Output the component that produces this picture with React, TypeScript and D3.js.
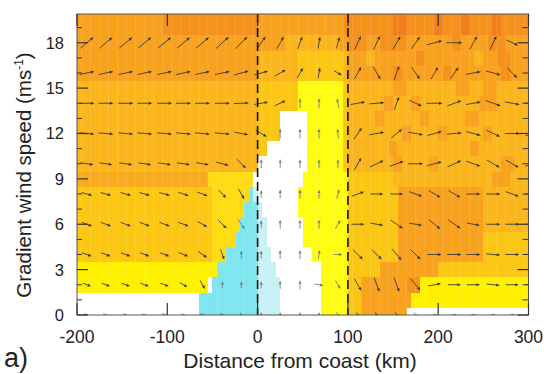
import React from 'react';
import * as d3 from 'd3';

// ---------- data ----------
const xTicks = [-200, -100, 0, 100, 200, 300];
const yTicks = [0, 3, 6, 9, 12, 15, 18];
const yMinorTicks = [1, 2, 4, 5, 7, 8, 10, 11, 13, 14, 16, 17, 19];
const coastLines = [0, 100];

// colour levels of the shaded field
const levelColor: Record<string, string> = {
  W: '#ffffff',
  C: '#7fe5ee',
  L: '#c6f2f6',
  Y: '#fffc12',
  E: '#fff000',
  y: '#fedb12',
  g: '#fcc614',
  o: '#fbb61d',
  p: '#f9aa1f',
  O: '#f8a21f',
  D: '#f5911d',
  R: '#f27f1b',
};

// shaded field: one list per gradient wind speed row (0..19 m/s), runs of [start km, level]
const row0: [number, string][] = [[-200, 'W'], [-65, 'C'], [0, 'L'], [25, 'W'], [70, 'Y'], [100, 'g'], [115, 'O'], [165, 'W']];
const row1: [number, string][] = [[-200, 'W'], [-65, 'C'], [0, 'L'], [25, 'W'], [70, 'Y'], [100, 'g'], [115, 'O'], [170, 'E']];
const row2: [number, string][] = [[-200, 'E'], [-55, 'W'], [-50, 'C'], [0, 'L'], [25, 'W'], [70, 'Y'], [100, 'g'], [115, 'O'], [165, 'D'], [180, 'E']];
const row3: [number, string][] = [[-200, 'E'], [-45, 'C'], [0, 'L'], [20, 'W'], [70, 'Y'], [100, 'g'], [135, 'O'], [200, 'g']];
const row4: [number, string][] = [[-200, 'g'], [-50, 'y'], [-35, 'C'], [0, 'L'], [15, 'W'], [60, 'Y'], [100, 'g'], [155, 'O'], [250, 'g']];
const row5: [number, string][] = [[-200, 'g'], [-50, 'y'], [-25, 'C'], [0, 'L'], [10, 'W'], [50, 'Y'], [100, 'g'], [155, 'O'], [250, 'g']];
const row6: [number, string][] = [[-200, 'g'], [-50, 'y'], [-20, 'C'], [0, 'L'], [10, 'W'], [50, 'Y'], [100, 'g'], [155, 'O'], [250, 'o']];
const row7: [number, string][] = [[-200, 'g'], [-50, 'y'], [-15, 'C'], [0, 'L'], [5, 'W'], [45, 'Y'], [100, 'g'], [155, 'O'], [250, 'o']];
const row8: [number, string][] = [[-200, 'g'], [-50, 'y'], [-10, 'C'], [-5, 'L'], [0, 'W'], [45, 'Y'], [100, 'g'], [155, 'O'], [250, 'o']];
const row9: [number, string][] = [[-200, 'p'], [-55, 'y'], [-5, 'W'], [50, 'Y'], [100, 'g'], [150, 'o'], [260, 'O'], [280, 'o']];
const row10: [number, string][] = [[-200, 'o'], [0, 'W'], [55, 'Y'], [95, 'g'], [100, 'o'], [150, 'O'], [160, 'o'], [190, 'O'], [200, 'o'], [270, 'O'], [285, 'o']];
const row11: [number, string][] = [[-200, 'o'], [0, 'g'], [10, 'W'], [55, 'Y'], [95, 'g'], [100, 'o'], [145, 'O'], [155, 'o'], [235, 'O'], [245, 'o']];
const row12: [number, string][] = [[-200, 'o'], [0, 'g'], [25, 'W'], [55, 'Y'], [95, 'g'], [100, 'o'], [160, 'O'], [170, 'o'], [200, 'O'], [210, 'o'], [250, 'O'], [260, 'o']];
const row13: [number, string][] = [[-200, 'o'], [0, 'g'], [25, 'W'], [55, 'Y'], [95, 'g'], [100, 'o'], [130, 'O'], [140, 'o'], [180, 'O'], [190, 'o'], [230, 'O'], [245, 'o']];
const row14: [number, string][] = [[-200, 'o'], [0, 'g'], [45, 'Y'], [95, 'g'], [100, 'o'], [140, 'O'], [150, 'o'], [170, 'O'], [180, 'o'], [245, 'O'], [265, 'o']];
const row15: [number, string][] = [[-200, 'o'], [0, 'g'], [45, 'Y'], [95, 'g'], [100, 'o'], [150, 'O'], [165, 'o'], [220, 'O'], [235, 'o'], [250, 'O'], [265, 'o']];
const row16: [number, string][] = [[-200, 'O'], [0, 'o'], [45, 'g'], [95, 'o'], [100, 'O'], [150, 'D'], [160, 'O'], [205, 'D'], [215, 'O'], [270, 'D'], [280, 'O']];
const row17: [number, string][] = [[-200, 'O'], [0, 'o'], [45, 'g'], [95, 'o'], [100, 'O'], [120, 'o'], [130, 'O'], [175, 'D'], [185, 'O'], [240, 'o'], [250, 'O'], [265, 'D'], [280, 'O']];
const row18: [number, string][] = [[-200, 'O'], [30, 'o'], [90, 'O'], [100, 'D'], [120, 'O'], [135, 'D'], [165, 'O'], [215, 'D'], [225, 'O'], [255, 'D'], [275, 'O']];
const row19: [number, string][] = [[-200, 'O'], [-105, 'D'], [0, 'O'], [95, 'D'], [150, 'R'], [165, 'D'], [195, 'R'], [205, 'D'], [225, 'R'], [235, 'D'], [260, 'R'], [270, 'D']];

const fieldRows = [row0, row1, row2, row3, row4, row5, row6, row7, row8, row9, row10, row11, row12, row13, row14, row15, row16, row17, row18, row19];

// wind vectors
const arrowX = [-189, -168, -146, -125, -103, -82, -61, -39, -18, 4, 25, 47, 68, 89, 111, 132, 154, 175, 196, 218, 239, 261, 282, 304];
const arrowY = [0, 2, 4, 6, 8, 10, 12, 14, 16, 18];

const dir0 = [-30, -30, -30, -30, -30, -30, 150, 150, 120, 90, 90, 90, 90, -60, -60, -60, -60, -60, 0, 0, 0, 0, 0, 0];
const mag0 = [3, 3, 3, 3, 3, 3, 3, 3, 3, 3, 3, 3, 3, 3, 3, 3, 3, 3, 3, 3, 3, 3, 3, 3];
const dir2 = [-20, -20, -20, -20, -20, -30, -60, 90, 90, 90, 90, 90, -10, -60, -60, -70, -70, -50, 10, 0, 0, -5, 0, 0];
const mag2 = [4.5, 4.5, 4.5, 4.5, 4.5, 4.5, 5, 3.5, 3.5, 3.5, 4, 4.5, 4.5, 5, 7, 7.5, 7.5, 7.5, 6.5, 6.5, 6.5, 6.5, 6.5, 6.5];
const dir4 = [-20, -20, -20, -20, -20, -22, -35, -70, 90, 90, 90, 90, 80, 0, -45, -45, -50, -45, 0, 0, 0, -5, 0, 0];
const mag4 = [5, 5, 5, 5, 5, 5, 5.5, 5.5, 4, 4, 4.5, 4.5, 4.5, 4.5, 7, 7, 7.5, 7, 7, 7, 7, 7, 7, 7];
const dir6 = [-20, -20, -20, -20, -20, -20, -30, -45, -55, 90, 90, 90, 90, 60, 0, -10, -35, -10, -40, -35, -10, 0, 0, 0];
const mag6 = [5.5, 5.5, 5.5, 5.5, 5.5, 5.5, 5.5, 6, 6, 4, 4.5, 4.5, 4.5, 5, 6.5, 6.5, 7.5, 6.5, 7.5, 7.5, 6.5, 7, 7, 7];
const dir8 = [-15, -15, -15, -15, -15, -18, -20, -45, -60, 90, 90, 90, 90, 75, 20, 0, 0, -20, -30, -30, 0, 0, -20, 0];
const mag8 = [5.5, 5.5, 5.5, 5.5, 5.5, 5.5, 5.5, 5.5, 6, 4, 4.5, 4.5, 4.5, 5, 6.5, 6.5, 6.5, 7, 7, 7, 7, 7, 7, 7];
const dir10 = [-8, -8, -8, -8, -8, -8, -10, -15, -45, 90, 90, 90, 90, 90, 60, 25, 20, 0, 15, 25, -20, -30, -30, 20];
const mag10 = [6.5, 6.5, 6.5, 6.5, 6.5, 6.5, 6.5, 6.5, 6.5, 4.5, 4.5, 4.5, 4.5, 4.5, 7, 7.5, 7.5, 7.5, 7.5, 7.5, 7.5, 7.5, 7.5, 7.5];
const dir12 = [-5, -5, -5, -5, -5, -5, -5, -5, -10, -30, 90, 90, 90, 95, 55, 10, 40, -10, 15, 5, -15, -25, 0, 20];
const mag12 = [7.5, 7.5, 7.5, 7.5, 7.5, 7.5, 7.5, 7.5, 7, 6.5, 5, 5, 5, 5, 7, 7.5, 7, 7.5, 7.5, 7.5, 7.5, 7.5, 7.5, 7.5];
const dir14 = [0, 0, 0, 0, 0, 0, 0, 0, 2, 10, 25, 90, 90, 100, 10, 5, 70, -25, 0, 20, 10, -20, -10, 0];
const mag14 = [7.5, 7.5, 7.5, 7.5, 7.5, 7.5, 7.5, 7.5, 7.5, 7, 6, 5, 5, 5, 7.5, 7.5, 7, 7, 8, 7.5, 7.5, 8, 7.5, 7.5];
const dir16 = [12, 12, 12, 12, 12, 12, 12, 12, 15, 15, 30, 60, 80, -30, 60, -60, 70, -55, 60, 55, 10, -15, -45, 65];
const mag16 = [7.5, 7.5, 7.5, 7.5, 7.5, 7.5, 7.5, 7.5, 7.5, 7, 6.5, 6, 5.5, 4.5, 7, 7.5, 7.5, 7.5, 7, 7, 7.5, 7.5, 7, 7.5];
const dir18 = [40, 40, 40, 40, 40, 40, 40, 42, 45, 55, 60, 70, 80, 75, 65, 65, 60, 55, 15, 0, 60, 65, -25, 60];
const mag18 = [8.5, 8.5, 8.5, 8.5, 8.5, 8.5, 8.5, 8.5, 8.5, 7.5, 7, 6.5, 6, 6, 7.5, 7.5, 7.5, 7.5, 8, 8, 7.5, 7.5, 6.5, 8];

const arrowDirs = [dir0, dir2, dir4, dir6, dir8, dir10, dir12, dir14, dir16, dir18];
const arrowMags = [mag0, mag2, mag4, mag6, mag8, mag10, mag12, mag14, mag16, mag18];

// ---------- chart ----------
const W = 544;
const H = 374;
const FONT = "'Liberation Sans', Arial, Helvetica, sans-serif";

function levelAt(xk: number, r: number): string {
  const runs = fieldRows[Math.max(0, Math.min(fieldRows.length - 1, r))];
  let c = runs[0][1];
  for (const [s, cc] of runs) if (xk >= s) c = cc;
  return c;
}

export default function App() {
  const x = d3.scaleLinear().domain([-200, 300]).range([77, 528.5]);
  const y = d3.scaleLinear().domain([0, 19.9]).range([315, 14]);
  const [x0, x1] = x.range();
  const [yb, yt] = y.range();
  const yMax = y.domain()[1];
  const xMax = x.domain()[1];
  const pxPerUnit = 2; // arrow length scale (px per m/s)

  const cells: JSX.Element[] = [];
  fieldRows.forEach((runs, r) => {
    const lo = Math.max(r - 0.5, 0);
    const hi = r === fieldRows.length - 1 ? yMax : r + 0.5;
    runs.forEach(([start, code], k) => {
      const end = k < runs.length - 1 ? runs[k + 1][0] : xMax;
      cells.push(
        <rect
          key={`c${r}-${k}`}
          x={x(start)}
          y={y(hi)}
          width={x(end) - x(start) + 0.3}
          height={y(lo) - y(hi) + 0.3}
          fill={levelColor[code]}
        />
      );
    });
  });

  // faint grid texture of the shaded field (10 km cells)
  const stripes = d3.range(-195, 300, 10);

  const arrows: JSX.Element[] = [];
  arrowY.forEach((yv, j) => {
    arrowX.forEach((xv, i) => {
      const a = (arrowDirs[j][i] * Math.PI) / 180;
      const len = arrowMags[j][i] * pxPerUnit;
      const ux = Math.cos(a);
      const uy = -Math.sin(a);
      const cx = x(xv);
      const cy = y(yv);
      const tx = cx + (ux * len) / 2;
      const ty = cy + (uy * len) / 2;
      const sx = cx - (ux * len) / 2;
      const sy = cy - (uy * len) / 2;
      const hl = 3.6;
      const hw = 1.5;
      const bx = tx - ux * hl;
      const by = ty - uy * hl;
      const px = -uy;
      const py = ux;
      const code = levelAt(xv, yv);
      const col = 'WCLY'.includes(code) ? '#777' : '#333';
      arrows.push(
        <g key={`a${j}-${i}`}>
          <line x1={sx} y1={sy} x2={bx} y2={by} stroke={col} strokeWidth={0.85} />
          <path
            d={`M${tx},${ty}L${bx + px * hw},${by + py * hw}L${bx - px * hw},${by - py * hw}Z`}
            fill={col}
          />
        </g>
      );
    });
  });

  const tickCol = '#333';
  return (
    <svg
      width={W}
      height={H}
      viewBox={`0 0 ${W} ${H}`}
      style={{ position: 'absolute', left: 0, top: 0, display: 'block', background: '#fff' }}
    >
      <defs>
        <clipPath id="plotClip">
          <rect x={x0} y={yt} width={x1 - x0} height={yb - yt} />
        </clipPath>
      </defs>
      <g clipPath="url(#plotClip)" shapeRendering="crispEdges">
        {cells}
      </g>
      <g clipPath="url(#plotClip)">
        {stripes.map((s) => (
          <line key={`s${s}`} x1={x(s)} x2={x(s)} y1={yt} y2={yb} stroke="#fff" strokeOpacity={0.16} strokeWidth={0.8} />
        ))}
      </g>
      <g clipPath="url(#plotClip)">{arrows}</g>

      {coastLines.map((v) => (
        <line key={`d${v}`} x1={x(v)} x2={x(v)} y1={yt} y2={yb} stroke="#111" strokeWidth={1.6} strokeDasharray="9,5" />
      ))}

      {/* frame */}
      <rect x={x0} y={yt} width={x1 - x0} height={yb - yt} fill="none" stroke="#555" strokeWidth={1} />

      {/* y ticks */}
      {yTicks.map((t) => (
        <g key={`yt${t}`}>
          <line x1={x0} x2={x0 + 11} y1={y(t)} y2={y(t)} stroke={tickCol} strokeWidth={1.2} />
          <line x1={x1} x2={x1 - 11} y1={y(t)} y2={y(t)} stroke={tickCol} strokeWidth={1.2} />
          <text x={64} y={y(t)} dy="0.36em" textAnchor="end" fontSize={16.5} fontFamily={FONT} fill="#222">
            {t}
          </text>
        </g>
      ))}
      {yMinorTicks.map((t) => (
        <g key={`ym${t}`}>
          <line x1={x0} x2={x0 + 5} y1={y(t)} y2={y(t)} stroke={tickCol} strokeWidth={1} />
          <line x1={x1} x2={x1 - 6} y1={y(t)} y2={y(t)} stroke={tickCol} strokeWidth={1} />
        </g>
      ))}

      {/* x ticks */}
      {xTicks.map((t) => (
        <g key={`xt${t}`}>
          <line x1={x(t)} x2={x(t)} y1={yb} y2={yb - 12} stroke={tickCol} strokeWidth={1.2} />
          <line x1={x(t)} x2={x(t)} y1={yt} y2={yt + 12} stroke={tickCol} strokeWidth={1.2} />
          <text x={x(t)} y={343} textAnchor="middle" fontSize={17.5} fontFamily={FONT} fill="#222">
            {t}
          </text>
        </g>
      ))}

      <text x={300} y={368} textAnchor="middle" fontSize={21} fontFamily={FONT} fill="#222">
        Distance from coast (km)
      </text>
      <text
        transform={`translate(31,175) rotate(-90)`}
        textAnchor="middle"
        fontSize={20.5}
        fontFamily={FONT}
        fill="#222"
      >
        Gradient wind speed (ms
        <tspan fontSize={12} dy={-8}>-1</tspan>
        <tspan dy={8}>)</tspan>
      </text>
      <text x={4} y={367} fontSize={27} fontFamily={FONT} fill="#222">
        a)
      </text>
    </svg>
  );
}
